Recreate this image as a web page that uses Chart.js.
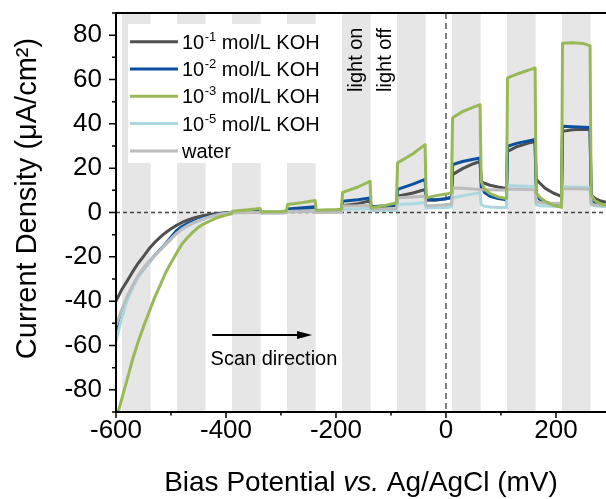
<!DOCTYPE html>
<html>
<head>
<meta charset="utf-8">
<script src="https://cdn.jsdelivr.net/npm/chart.js@4.4.1/dist/chart.umd.min.js"></script>
<style>
  html, body { margin: 0; padding: 0; background: #fff; }
  #wrap { width: 606px; height: 499px; }
</style>
</head>
<body>
<div id="wrap"><canvas id="chart" width="606" height="499"></canvas></div>
<script>
/* chopped-light LSV, current density vs bias */
const potentials = [
  -600, -590, -580, -570, -560, -550, -540, -530, -520, -510,
  -500, -490, -480, -470, -460, -450, -440, -430, -420, -410,
  -400, -390,
  -388, -360, -338, -336, -300, -290,
  -288, -260, -238, -236, -200, -190,
  -188, -160, -138, -136, -110, -90,
  -88, -60, -38, -36, -20, 0, 10,
  12, 30, 50, 62, 64, 70, 80, 95, 110,
  112, 130, 150, 162, 164, 170, 180, 195, 210,
  212, 230, 250, 262, 264, 270, 280, 291
];
const koh1 = [
  -40, -35, -31, -26.8, -23, -19.8, -16.4, -13.6, -11.2, -9.1,
  -7.3, -5.8, -4.5, -3.5, -2.6, -1.9, -1.3, -0.9, -0.5, -0.3,
  -0.1, 0,
  0, 0.1, 0.2, 0, 0.1, 0.2,
  1.0, 1.5, 2.0, 0.5, 0.7, 0.9,
  3.0, 4.0, 5.3, 2.5, 2.8, 3.2,
  7.3, 8.8, 10.4, 5.5, 5.5, 6.2, 7.0,
  17.1, 19.8, 22.0, 23.1, 14.0, 13.2, 12.3, 11.5, 10.8,
  27.6, 29.8, 31.3, 32.0, 15.0, 13.4, 11.0, 8.8, 7.3,
  36.6, 37.3, 37.5, 37.4, 8.0, 6.5, 5.3, 4.6
];
const koh2 = [
  -55, -46, -39, -33.5, -29, -25.5, -22.5, -19.5, -16.8, -14.2,
  -11.2, -8.2, -6.3, -5, -4, -3.2, -2.4, -1.8, -1.2, -0.7,
  -0.3, 0,
  0.1, 0.5, 0.8, 0.1, 0.2, 0.3,
  1.6, 2.1, 2.6, 0.6, 0.8, 1.0,
  5.1, 5.8, 6.6, 2.6, 3.0, 3.6,
  10.4, 12.8, 14.9, 6.0, 5.8, 6.2, 6.6,
  21.6, 23.0, 24.0, 24.6, 11.5, 9.0, 7.3, 6.3, 5.8,
  29.9, 31.3, 32.3, 32.9, 8.0, 6.0, 4.8, 3.5, 2.9,
  38.9, 38.7, 38.5, 38.3, 6.0, 4.5, 3.6, 3.0
];
const koh3 = [
  -93.6, -84.5, -75.5, -66.4, -58.5, -51.5, -45, -38.5, -33, -27.3,
  -22.7, -18.4, -14.2, -11.3, -8.8, -6.6, -5.1, -3.9, -2.8, -1.9,
  -1.2, -0.6,
  0.6, 1.2, 1.8, 0.3, 0.5, 0.8,
  3.6, 4.5, 5.4, 1.0, 1.3, 1.5,
  9.1, 11.5, 14.1, 2.1, 3.2, 4.4,
  22.4, 26.5, 30.6, 6.6, 7.5, 8.3, 8.9,
  42.7, 45.5, 47.5, 48.6, 14.0, 10.5, 8.5, 7.0, 6.3,
  60.7, 62.5, 64.2, 65.2, 9.0, 7.0, 5.0, 3.2, 2.3,
  76.4, 76.6, 76.2, 75.3, 8.0, 5.5, 4.0, 3.2
];
const koh5 = [
  -58, -48, -40, -34, -29.5, -25.5, -22.5, -19.5, -17, -14.5,
  -12, -9.5, -7.5, -6, -4.8, -3.7, -2.8, -2, -1.3, -0.8,
  -0.4, -0.1,
  -0.1, 0, 0, -0.2, -0.2, -0.1,
  0.5, 0.7, 0.9, 0, 0.1, 0.2,
  1.4, 1.6, 1.8, 0.8, 0.9, 1.0,
  3.6, 4.0, 4.5, 2.0, 2.1, 2.3, 2.5,
  6.6, 7.5, 8.4, 8.9, 3.5, 2.8, 2.5, 2.3, 2.2,
  12.2, 12.0, 11.8, 11.6, 3.5, 3.0, 2.9, 2.8, 2.8,
  11.6, 11.5, 11.4, 11.3, 3.5, 3.0, 2.8, 2.6
];
const water = [
  -51, -44, -38, -33, -28.5, -25, -22, -19.5, -17, -14.5,
  -12, -9.5, -7.5, -6, -4.8, -3.8, -2.9, -2.1, -1.4, -0.8,
  -0.4, -0.1,
  -0.1, 0, 0, -0.2, -0.2, -0.1,
  0.3, 0.4, 0.5, 0, 0.1, 0.2,
  2.9, 3.0, 3.2, 1.4, 1.6, 1.8,
  6.6, 7.0, 7.3, 3.0, 3.2, 3.5, 3.8,
  11.1, 10.9, 10.6, 10.4, 10.2, 10.3, 10.3, 10.2, 10.1,
  10.6, 10.5, 10.4, 10.3, 4.8, 4.5, 4.3, 4.2, 4.2,
  10.7, 10.7, 10.6, 10.5, 4.0, 3.5, 3.3, 3.2
];

// light-on periods (mV)
const lightOn = [-589, -489, -389, -289, -189, -89, 11, 111, 211];
const lightOff = [-537, -437, -337, -237, -137, -37, 63, 163, 263];

const xTicks = [-600, -400, -200, 0, 200];
const xMinor = [-500, -300, -100, 100];
const yTicks = [-80, -60, -40, -20, 0, 20, 40, 60, 80];
const yMinor = [-90, -70, -50, -30, -10, 10, 30, 50, 70, 90];

const seriesNames = [['10', '-1', ' mol/L KOH'], ['10', '-2', ' mol/L KOH'], ['10', '-3', ' mol/L KOH'], ['10', '-5', ' mol/L KOH'], ['water', '', '']];
const seriesColors = ['#505050', '#0b4f9e', '#97b958', '#aad8de', '#bcbcbc'];

const FONT = "'Liberation Sans', Arial, sans-serif";

function pts(ys) { return potentials.map((x, i) => ({ x, y: ys[i] })); }

const decor = {
  id: 'decor',
  beforeDatasetsDraw(chart) {
    const { ctx, chartArea: a, scales: { x, y } } = chart;
    ctx.save();
    ctx.fillStyle = '#e6e6e6';
    lightOn.forEach((s, i) => {
      const x0 = Math.max(x.getPixelForValue(s), a.left), x1 = x.getPixelForValue(lightOff[i]);
      ctx.fillRect(x0, a.top, x1 - x0, a.bottom - a.top);
    });
    // legend box
    ctx.fillStyle = '#fff';
    ctx.fillRect(128, 24, 208, 139);
    // zero lines
    ctx.strokeStyle = '#444';
    ctx.lineWidth = 1.3;
    ctx.setLineDash([4, 3]);
    ctx.beginPath();
    ctx.moveTo(a.left, y.getPixelForValue(0));
    ctx.lineTo(a.right, y.getPixelForValue(0));
    ctx.stroke();
    ctx.strokeStyle = '#555';
    ctx.lineWidth = 1.5;
    ctx.setLineDash([6, 4]);
    ctx.beginPath();
    ctx.moveTo(x.getPixelForValue(0), a.top);
    ctx.lineTo(x.getPixelForValue(0), a.bottom);
    ctx.stroke();
    ctx.restore();
  },
  afterDatasetsDraw(chart) {
    const { ctx, chartArea: a, scales: { x, y } } = chart;
    ctx.save();
    // axes frame
    ctx.strokeStyle = '#000';
    ctx.lineWidth = 2;
    ctx.beginPath();
    ctx.moveTo(a.left, a.top); ctx.lineTo(a.right, a.top);
    ctx.moveTo(a.left, a.top - 1); ctx.lineTo(a.left, a.bottom + 1);
    ctx.moveTo(a.left - 1, a.bottom); ctx.lineTo(a.right, a.bottom);
    ctx.stroke();
    ctx.lineWidth = 1.5;
    ctx.beginPath();
    xTicks.forEach(v => { const p = x.getPixelForValue(v); ctx.moveTo(p, a.bottom); ctx.lineTo(p, a.bottom + 6); });
    xMinor.forEach(v => { const p = x.getPixelForValue(v); ctx.moveTo(p, a.bottom); ctx.lineTo(p, a.bottom + 3.5); });
    yTicks.forEach(v => { const p = y.getPixelForValue(v); ctx.moveTo(a.left, p); ctx.lineTo(a.left - 7, p); });
    yMinor.forEach(v => { const p = y.getPixelForValue(v); ctx.moveTo(a.left, p); ctx.lineTo(a.left - 4, p); });
    ctx.stroke();

    // legend
    ctx.fillStyle = '#000';
    ctx.textBaseline = 'alphabetic';
    seriesNames.forEach((n, i) => {
      const ly = 41.7 + i * 27.3;
      ctx.strokeStyle = seriesColors[i];
      ctx.lineWidth = 3;
      ctx.beginPath(); ctx.moveTo(130, ly); ctx.lineTo(178, ly); ctx.stroke();
      let tx = 182;
      ctx.font = '20px ' + FONT;
      ctx.fillText(n[0], tx, ly + 7); tx += ctx.measureText(n[0]).width;
      if (n[1]) {
        ctx.font = '13px ' + FONT;
        ctx.fillText(n[1], tx + 0.5, ly - 1); tx += ctx.measureText(n[1]).width + 0.5;
        ctx.font = '20px ' + FONT;
        ctx.fillText(n[2], tx, ly + 7);
      }
    });

    // light on / off labels
    ctx.font = '20px ' + FONT;
    [['light on', 362], ['light off', 391]].forEach(([t, bx]) => {
      ctx.save();
      ctx.translate(bx, 92);
      ctx.rotate(-Math.PI / 2);
      ctx.textAlign = 'left';
      ctx.fillText(t, 0, 0);
      ctx.restore();
    });

    // scan direction arrow
    const ax0 = x.getPixelForValue(-425), ax1 = x.getPixelForValue(-243.5), ay = y.getPixelForValue(-55.3);
    ctx.strokeStyle = '#000';
    ctx.lineWidth = 2;
    ctx.beginPath(); ctx.moveTo(ax0, ay); ctx.lineTo(ax1 - 12, ay); ctx.stroke();
    ctx.beginPath(); ctx.moveTo(ax1, ay); ctx.lineTo(ax1 - 15, ay - 4); ctx.lineTo(ax1 - 15, ay + 4); ctx.closePath(); ctx.fill();
    ctx.font = '20px ' + FONT;
    ctx.fillText('Scan direction', x.getPixelForValue(-428), y.getPixelForValue(-68.8));

    // axis titles
    ctx.font = '29px ' + FONT;
    ctx.save();
    ctx.translate(36, 198.5);
    ctx.rotate(-Math.PI / 2);
    ctx.textAlign = 'center';
    ctx.fillText('Current Density (\u03bcA/cm\u00b2)', 0, 0);
    ctx.restore();

    const parts = [['Bias Potential ', 'normal'], ['vs.', 'italic'], [' Ag/AgCl (mV)', 'normal']];
    let total = 0;
    parts.forEach(p => { ctx.font = p[1] + ' 28px ' + FONT; total += ctx.measureText(p[0]).width; });
    let tx = (a.left + a.right) / 2 - total / 2;
    parts.forEach(p => { ctx.font = p[1] + ' 28px ' + FONT; ctx.fillText(p[0], tx, 491); tx += ctx.measureText(p[0]).width; });
    ctx.restore();
  }
};

const lineDs = (label, ys, color, order) => ({
  label, data: pts(ys), borderColor: color, borderWidth: 3, pointRadius: 0,
  fill: false, tension: 0, borderJoinStyle: 'round', order
});

new Chart(document.getElementById('chart'), {
  type: 'line',
  data: {
    datasets: [
      lineDs('10-3 mol/L KOH', koh3, seriesColors[2], 0),
      lineDs('water', water, seriesColors[4], 1),
      lineDs('10-5 mol/L KOH', koh5, seriesColors[3], 2),
      lineDs('10-2 mol/L KOH', koh2, seriesColors[1], 3),
      lineDs('10-1 mol/L KOH', koh1, seriesColors[0], 4)
    ]
  },
  options: {
    responsive: false,
    animation: false,
    layout: { padding: { top: 13, right: 0, left: 0, bottom: 0 } },
    plugins: { legend: { display: false }, tooltip: { enabled: false } },
    scales: {
      x: {
        type: 'linear', min: -600, max: 291,
        afterFit: s => { s.height = 87; s.paddingLeft = 0; s.paddingRight = 0; },
        afterBuildTicks: s => { s.ticks = xTicks.map(v => ({ value: v })); },
        grid: { display: false, drawTicks: false },
        border: { display: false },
        ticks: { font: { family: FONT, size: 26 }, color: '#000', padding: 3, maxRotation: 0, autoSkip: false }
      },
      y: {
        type: 'linear', min: -90, max: 90,
        afterFit: s => { s.width = 116; s.paddingTop = 0; s.paddingBottom = 0; },
        afterBuildTicks: s => { s.ticks = yTicks.map(v => ({ value: v })); },
        grid: { display: false, drawTicks: false },
        border: { display: false },
        ticks: { font: { family: FONT, size: 26 }, color: '#000', padding: 14, autoSkip: false }
      }
    }
  },
  plugins: [decor]
});
</script>
</body>
</html>
